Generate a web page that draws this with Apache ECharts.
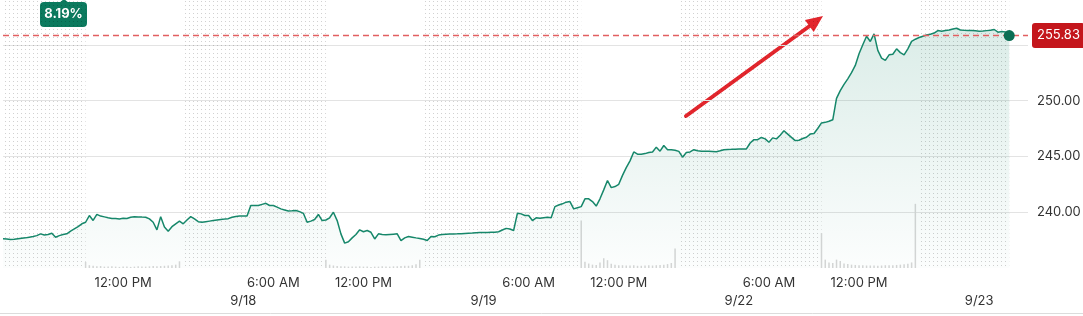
<!DOCTYPE html>
<html><head><meta charset="utf-8">
<script src="https://cdn.jsdelivr.net/npm/echarts@6/dist/echarts.min.js"></script>
<style>html,body{margin:0;padding:0;background:#fff}#c{width:1083px;height:316px}</style>
</head><body><div id="c"></div>
<script>
// ---- data ----
// trading sessions: [day label, first hour, end hour] sampled every 15 minutes
const sessions = [['9/17',4,20],['9/18',4,20],['9/19',3,20],['9/22',4,20],['9/23',4,7.5]];

const price917 = [237.62,237.60,237.55,237.58,237.62,237.66,237.70,237.76,237.82,237.90,
  238.06,237.95,238.00,238.12,237.76,237.90,238.00,238.06,238.30,238.50,
  238.70,238.96,239.10,239.70,239.26,239.80,239.65,239.58,239.50,239.44,
  239.44,239.40,239.45,239.44,239.55,239.60,239.58,239.56,239.55,239.40,
  239.10,238.42,239.60,238.67,238.30,238.70,238.96,239.20,238.96,239.30,
  239.60,239.40,239.15,239.10,239.15,239.20,239.25,239.30,239.35,239.38,
  239.42,239.55,239.62,239.65];
const price918 = [239.65,239.65,240.60,240.60,240.60,240.70,240.80,240.60,240.60,240.45,
  240.30,240.20,240.10,240.12,240.15,240.05,239.90,239.10,239.20,239.35,
  239.80,239.25,239.30,239.50,240.00,239.25,238.06,237.23,237.35,237.70,
  238.00,238.42,238.25,238.36,238.20,237.60,238.06,238.00,237.97,238.00,
  238.03,238.06,237.46,237.70,237.82,237.76,237.70,237.65,237.58,237.46,
  237.82,237.80,237.95,238.00,238.02,238.04,238.05,238.06,238.08,238.10,
  238.12,238.13,238.15,238.17];
const price919 = [238.18,238.19,238.20,238.20,238.25,238.40,238.55,238.50,238.36,239.90,
  239.85,239.70,239.70,239.25,239.50,239.45,239.50,239.55,239.50,240.50,
  240.65,240.75,240.90,240.95,240.30,240.40,240.50,241.20,241.20,240.95,
  240.55,241.20,242.00,242.84,242.20,242.30,242.50,243.30,244.00,244.60,
  245.40,245.20,245.20,245.25,245.35,245.40,245.83,245.47,245.98,245.60,
  245.60,245.55,245.45,244.93,245.35,245.40,245.60,245.50,245.47,245.47,
  245.46,245.44,245.42,245.50,245.60,245.62,245.63,245.65];
const price922 = [245.67,245.67,245.67,246.20,246.50,246.50,246.70,246.57,246.27,246.66,
  246.57,246.90,247.30,247.00,246.70,246.42,246.45,246.60,246.72,247.00,
  247.05,247.50,248.00,248.05,248.15,248.28,250.20,250.90,251.45,251.95,
  252.50,253.15,254.20,255.00,255.77,255.30,255.98,254.50,253.80,253.60,
  254.10,254.15,254.64,254.30,254.10,254.64,255.30,255.50,255.65,255.77,
  255.87,255.95,256.05,256.28,256.22,256.28,256.33,256.42,256.48,256.33,
  256.30,256.29,256.28,256.25];
const price923 = [256.22,256.24,256.27,256.30,256.37,256.13,256.19,256.15,255.83];

// regular-session volume (millions), 9:30 .. 15:45
const vol917 = [2.2,1.0,0.8,0.6,0.7,0.5,0.5,0.6,0.5,0.4,0.5,0.5,0.4,0.5,0.6,0.5,0.5,0.6,0.7,0.6,0.7,0.8,0.9,1.0,1.2,2.4];
const vol918 = [3.0,1.2,0.9,0.7,0.6,0.6,0.5,0.5,0.5,0.6,0.5,0.5,0.4,0.5,0.5,0.6,0.5,0.5,0.6,0.6,0.7,0.8,0.8,1.0,1.3,3.0];
const vol919 = [17,2.2,1.6,1.2,1.1,2.0,3.5,2.8,1.5,1.2,1.0,1.0,0.9,0.9,1.0,0.8,0.8,0.9,1.0,0.9,1.0,1.1,1.2,1.4,1.8,7.0];
const vol922 = [12.5,3.0,2.0,1.8,3.0,2.5,1.6,1.4,1.2,1.1,1.0,1.0,0.9,0.9,0.9,0.8,0.9,1.0,1.0,1.0,1.1,1.2,1.3,1.5,2.0,23];

const tickCats  = ['9/17 12:00','9/18 04:00','9/18 06:00','9/18 12:00','9/19 03:00','9/19 06:00','9/19 12:00','9/22 04:00','9/22 06:00','9/22 12:00','9/23 04:00'];
const tickTexts = ['12:00 PM','9/18','6:00 AM','12:00 PM','9/19','6:00 AM','12:00 PM','9/22','6:00 AM','12:00 PM','9/23'];
const tickRows  = [0,1,0,0,1,0,0,1,0,0,1];
const yTickLabels = [240, 245, 250];

const extendedRanges = [['9/17 04:00','9/17 09:30'],['9/17 16:00','9/18 09:30'],['9/18 16:00','9/19 09:30'],['9/19 16:00','9/22 09:30'],['9/22 16:00','9/23 06:00']];

const lastPrice = 255.83;
const changeText = '8.19%';

// ---- build ----
const pad = n => (n < 10 ? '0' : '') + n;
const categories = [];
const slotMinutes = [];
const slotDay = [];
sessions.forEach(([d, s, e]) => {
  for (let m = s * 60; m < e * 60; m += 15) {
    categories.push(d + ' ' + pad(Math.floor(m / 60)) + ':' + pad(m % 60));
    slotMinutes.push(m); slotDay.push(d);
  }
});
const prices = price917.concat(price918, price919, price922, price923);
while (prices.length < categories.length) prices.push(null);
const volByDay = {'9/17': vol917, '9/18': vol918, '9/19': vol919, '9/22': vol922};
const volumes = categories.map((c, i) => {
  const m = slotMinutes[i], arr = volByDay[slotDay[i]];
  if (!arr || m < 570 || m >= 960) return null;
  return arr[(m - 570) / 15];
});
const lastIdx = price917.length + price918.length + price919.length + price922.length + price923.length - 1;
const refLine = categories.map(() => lastPrice);

const tickMap = {};
tickCats.forEach((c, i) => { tickMap[c] = (tickRows[i] ? '\n' : '') + tickTexts[i]; });

const pc = document.createElement('canvas'); pc.width = 4; pc.height = 4;
const g = pc.getContext('2d'); g.fillStyle = 'rgba(0,0,0,0.18)'; g.fillRect(1, 1, 1, 1);

const chart = echarts.init(document.getElementById('c'), null, {renderer: 'canvas'});
const font = 'Inter, "Open Sans", sans-serif';
const dashRed = '#e25f61';
chart.setOption({
  animation: false,
  backgroundColor: '#fff',
  grid: {left: 3, right: 55, top: -11, bottom: 48, containLabel: false, outerBoundsMode: 'none'},
  xAxis: {
    type: 'category', data: categories, boundaryGap: false,
    axisLine: {show: false}, axisTick: {show: false}, splitLine: {show: false},
    axisLabel: {
      interval: (i, v) => tickMap[v] !== undefined,
      formatter: v => tickMap[v] || '',
      hideOverlap: false,
      color: '#333', fontFamily: font, fontSize: 13, lineHeight: 18, margin: 6
    }
  },
  yAxis: [{
    type: 'value', position: 'right', min: 235, max: 260, interval: 5,
    axisLine: {show: false}, axisTick: {show: false},
    splitLine: {show: true, lineStyle: {color: ['rgba(0,0,0,0)', '#e3e3e3', '#e3e3e3', '#e3e3e3', '#e3e3e3', '#e3e3e3'], width: 1}},
    axisLabel: {formatter: v => yTickLabels.indexOf(v) >= 0 ? v.toFixed(2) : '', color: '#333', fontFamily: font, fontSize: 13, margin: 9}
  }, {
    type: 'value', min: 0, max: 100, show: false, splitLine: {show: false}
  }],
  series: [{
    type: 'bar', yAxisIndex: 1, data: volumes, barWidth: 1.5, silent: true, z: 1,
    itemStyle: {color: '#d6d6d6'}
  }, {
    type: 'line', data: prices, showSymbol: false, connectNulls: false, z: 3,
    lineStyle: {color: '#16876a', width: 1.5},
    areaStyle: {color: new echarts.graphic.LinearGradient(0, 0, 0, 1, [
      {offset: 0, color: 'rgba(22,135,106,0.22)'}, {offset: 1, color: 'rgba(22,135,106,0.02)'}])},
    markArea: {silent: true, itemStyle: {color: {image: pc, repeat: 'repeat'}},
      data: extendedRanges.map(r => [{xAxis: r[0]}, {xAxis: r[1]}])},
    markPoint: {silent: true, symbol: 'circle', symbolSize: 11, itemStyle: {color: '#0b6e54'}, label: {show: false},
      data: [{coord: [categories[lastIdx], prices[lastIdx]]}]}
  }, {
    // last-price reference line, dashed, with price tag at the right
    type: 'line', data: refLine, showSymbol: false, silent: true, z: 4,
    itemStyle: {color: dashRed},
    lineStyle: {color: dashRed, type: [6, 4], width: 1.6},
    endLabel: {show: true, formatter: lastPrice.toFixed(2), distance: 4, color: '#fff',
      backgroundColor: '#c4161c', padding: [6, 5, 4, 5], lineHeight: 15, borderRadius: 3, fontFamily: font, fontSize: 13}
  }],
  graphic: [
    {type: 'line', shape: {x1: 0, y1: 313.5, x2: 1083, y2: 313.5}, style: {stroke: '#dcdcdc', lineWidth: 1}, silent: true},
    {type: 'line', shape: {x1: 686, y1: 116, x2: 811, y2: 25}, style: {stroke: '#e3262d', lineWidth: 4, lineCap: 'round'}, silent: true},
    {type: 'polygon', shape: {points: [[823, 16], [813.7, 32.1], [804.9, 19.9]]}, style: {fill: '#e3262d'}, silent: true},
    {type: 'polygon', shape: {points: [[59, 3], [64, -1], [69, 3]]}, style: {fill: '#0c7a5e'}, silent: true},
    {type: 'rect', shape: {x: 40, y: 2, width: 47, height: 25, r: 4}, style: {fill: '#0c7a5e'}, silent: true},
    {type: 'text', x: 63.5, y: 14.5, style: {text: changeText, fill: '#fff', font: 'bold 13px ' + font, align: 'center', verticalAlign: 'middle'}, silent: true}
  ]
});
</script></body></html>
